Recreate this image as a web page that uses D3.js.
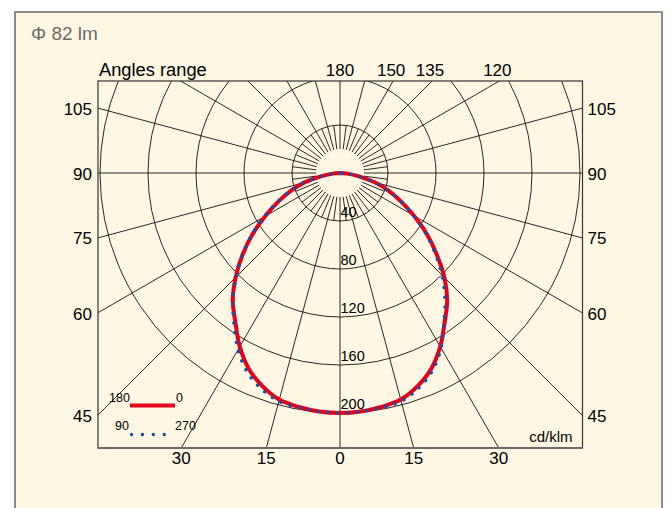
<!DOCTYPE html>
<html><head><meta charset="utf-8">
<script src="https://cdn.jsdelivr.net/npm/d3@7"></script>
<style>body{margin:0;background:#fff}svg{display:block}text{font-family:"Liberation Sans",Arial,Helvetica,sans-serif}</style>
</head><body><svg id="c" width="670" height="508"></svg>
<script>
// ---- data ----
const gammaAngles = [0,5,10,15,20,25,30,35,40,45,50,55,60,65,70,75,80,85,90];
const c0   = [200,199.5,198,195.5,189,180,167,152,139,123,105,88,71,56,43,30,16,6,0];   // right, red
const c180 = [200,199.5,198,195.5,189,180,167,152,139,123,106,89,72,57,44,31,17,6,0];   // left, red
const c90  = [200,199.5,198.5,197,191.5,183,170,154,139,122,106,90,73,58,44,31,17,6,0]; // left, blue
const c270 = [200,199.5,198.5,197,191,182,168.5,151,136,120,103,87,71,56,43,30,16,6,0]; // right, blue
const ringValues = [40,80,120,160,200];
const sideTicks = [105,90,75,60,45];
const topTicks = [180,150,135,120];
const bottomTicks = [-30,-15,0,15,30];
const gridAngles = d3.range(0,181,15);
const minorAngles = d3.range(7.5,180,15);
const fluxLabel = "Φ 82 lm";
const unitLabel = "cd/klm";

const svg = d3.select("#c");
const cx = 340, cy = 173;
const box = {l:98, t:81, r:582.5, b:448};
const r = d3.scaleLinear().domain([0,200]).range([0,240]);
const deg = Math.PI/180;

// panel
svg.append("rect").attr("x",15).attr("y",12).attr("width",647).attr("height",520)
  .attr("fill","#fef7e3").attr("stroke","#8c8c8c").attr("stroke-width",2);

svg.append("text").attr("x",31).attr("y",39.5).attr("font-size",19).attr("fill","#6a6a6a")
  .attr("font-family","Roboto").attr("font-weight",300).text(fluxLabel);

const defs = svg.append("defs");
defs.append("clipPath").attr("id","bx").append("rect")
  .attr("x",box.l).attr("y",box.t).attr("width",box.r-box.l).attr("height",box.b-box.t);

const g = svg.append("g").attr("clip-path","url(#bx)");
// rings
g.selectAll("circle.ring").data(ringValues).join("circle")
  .attr("cx",cx).attr("cy",cy).attr("r",d=>r(d))
  .attr("fill","none").attr("stroke","#111").attr("stroke-width",0.9);
// radial lines
const pt = (side,th,rad)=>[cx+side*rad*Math.sin(th*deg), cy+rad*Math.cos(th*deg)];
function radial(th,r0,r1){
  [1,-1].forEach(side=>{
    if ((th===0||th===180) && side===-1) return;
    const a = pt(side,th,r0), b = pt(side,th,r1);
    g.append("line").attr("x1",a[0]).attr("y1",a[1]).attr("x2",b[0]).attr("y2",b[1])
      .attr("stroke","#111").attr("stroke-width",0.9);
  });
}
gridAngles.forEach(th=>radial(th,r(20),600));
minorAngles.forEach(th=>radial(th,r(20),r(40)));

// box
svg.append("rect").attr("x",box.l).attr("y",box.t).attr("width",box.r-box.l).attr("height",box.b-box.t)
  .attr("fill","none").attr("stroke","#333").attr("stroke-width",1.2);
svg.append("line").attr("x1",box.l).attr("x2",box.r).attr("y1",box.b).attr("y2",box.b)
  .attr("stroke","#6a6a6a").attr("stroke-width",2);

// ring labels
svg.selectAll("text.ring").data(ringValues).join("text")
  .attr("x",cx+0.5).attr("y",d=>cy+r(d)-4).attr("font-size",14.5).attr("fill","#000").text(d=>d);

// curves
function curvePts(left,right){
  const pts=[];
  for(let i=gammaAngles.length-1;i>=0;i--) pts.push([Math.PI+gammaAngles[i]*deg, r(left[i])]);
  for(let i=1;i<gammaAngles.length;i++) pts.push([Math.PI-gammaAngles[i]*deg, r(right[i])]);
  return pts;
}
const lr = d3.lineRadial().angle(d=>d[0]).radius(d=>d[1]).curve(d3.curveCatmullRom);
const cg = svg.append("g").attr("transform",`translate(${cx},${cy})`);
cg.append("path").attr("d",lr(curvePts(c180,c0))).attr("fill","none")
  .attr("stroke","#e2001a").attr("stroke-width",4);
cg.append("path").attr("d",lr(curvePts(c90,c270))).attr("fill","none")
  .attr("stroke","#1750a8").attr("stroke-width",3.4).attr("stroke-linecap","round")
  .attr("stroke-dasharray","0.1 9.6");

// angle labels
const fs=17;
svg.append("text").attr("x",box.l+1).attr("y",76).attr("font-size",18.3).attr("fill","#000").text("Angles range");
topTicks.forEach(th=>{
  const t=(box.t-cy)/Math.cos(th*deg);
  const x=cx+t*Math.sin(th*deg);
  svg.append("text").attr("x",th===180?x:x-2).attr("y",76).attr("text-anchor","middle").attr("font-size",fs).attr("fill","#000").text(th);
});
sideTicks.forEach(th=>{
  const t=(box.r-cx)/Math.sin(th*deg);
  const y=cy+t*Math.cos(th*deg);
  svg.append("text").attr("x",box.r+5).attr("y",y+6.5).attr("font-size",fs).attr("fill","#000").text(th);
  svg.append("text").attr("x",box.l-6).attr("y",y+6.5).attr("text-anchor","end").attr("font-size",fs).attr("fill","#000").text(th);
});
bottomTicks.forEach(th=>{
  const t=(box.b-cy)/Math.cos(th*deg);
  const x=cx+t*Math.sin(th*deg);
  svg.append("text").attr("x",x).attr("y",463.5).attr("text-anchor","middle").attr("font-size",fs).attr("fill","#000").text(Math.abs(th));
});
svg.append("text").attr("x",box.r-10).attr("y",441.5).attr("text-anchor","end").attr("font-size",15).attr("fill","#000").text(unitLabel);

// legend
const lg = svg.append("g");
lg.append("text").attr("x",109).attr("y",402).attr("font-size",12.5).attr("fill","#000").text("180");
lg.append("line").attr("x1",130).attr("x2",175).attr("y1",405.5).attr("y2",405.5).attr("stroke","#e2001a").attr("stroke-width",4);
lg.append("text").attr("x",176).attr("y",402).attr("font-size",12.5).attr("fill","#000").text("0");
lg.append("text").attr("x",115).attr("y",430).attr("font-size",12.5).attr("fill","#000").text("90");
lg.append("line").attr("x1",131.5).attr("x2",175).attr("y1",434.5).attr("y2",434.5).attr("stroke","#1750a8")
  .attr("stroke-width",3.4).attr("stroke-linecap","round").attr("stroke-dasharray","0.1 10.8");
lg.append("text").attr("x",175).attr("y",430).attr("font-size",12.5).attr("fill","#000").text("270");
</script></body></html>
